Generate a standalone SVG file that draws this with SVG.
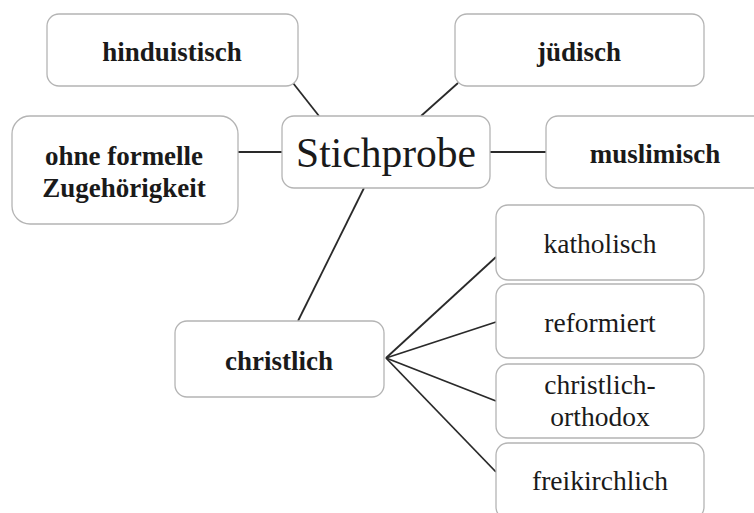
<svg xmlns="http://www.w3.org/2000/svg" width="754" height="513" viewBox="0 0 754 513">
<style>
.box{fill:#fff;stroke:#b4b4b4;stroke-width:1.3}
.t{font-family:"Liberation Serif","Times New Roman",serif;fill:#1a1a1a;text-anchor:middle}
.b{font-weight:bold;font-size:27px}
.r{font-size:27.5px}
.c{stroke:#2a2a2a;stroke-width:1.8;fill:none}
</style>
<rect width="754" height="513" fill="#fff"/>
<g id="connectors">
<line class="c" x1="293" y1="83" x2="319" y2="116"/>
<line class="c" x1="458" y1="83" x2="421" y2="116"/>
<line class="c" x1="238" y1="152" x2="282" y2="152"/>
<line class="c" x1="490" y1="152" x2="546" y2="152"/>
<line class="c" x1="364" y1="188" x2="298" y2="321"/>
<line class="c" x1="386" y1="358" x2="496" y2="257"/>
<line class="c" x1="386" y1="358" x2="496" y2="322"/>
<line class="c" x1="386" y1="358" x2="496" y2="401"/>
<line class="c" x1="386" y1="358" x2="496" y2="472"/>
</g>
<g id="hinduistisch"><rect class="box" x="47" y="14" width="251" height="72" rx="12"/><text class="t b" x="172" y="61">hinduistisch</text></g>
<g id="juedisch"><rect class="box" x="455" y="14" width="249" height="72" rx="12"/><text class="t b" x="579" y="61">jüdisch</text></g>
<g id="ohne"><rect class="box" x="12" y="116" width="226" height="108" rx="18"/><text class="t b" x="124" y="165">ohne formelle</text><text class="t b" x="124" y="197">Zugehörigkeit</text></g>
<g id="stichprobe"><rect class="box" x="282" y="116" width="208" height="72" rx="12"/><text class="t" x="386" y="167" font-size="41.5">Stichprobe</text></g>
<g id="muslimisch"><rect class="box" x="546" y="116" width="220" height="72" rx="12"/><text class="t b" x="655" y="163">muslimisch</text></g>
<g id="christlich"><rect class="box" x="175" y="321" width="209" height="76" rx="12"/><text class="t b" x="279" y="370">christlich</text></g>
<g id="katholisch"><rect class="box" x="496" y="205" width="208" height="75" rx="12"/><text class="t r" x="600" y="253">katholisch</text></g>
<g id="reformiert"><rect class="box" x="496" y="284" width="208" height="74" rx="12"/><text class="t r" x="600" y="332">reformiert</text></g>
<g id="orthodox"><rect class="box" x="496" y="364" width="208" height="74" rx="12"/><text class="t r" x="600" y="394">christlich-</text><text class="t r" x="600" y="426">orthodox</text></g>
<g id="freikirchlich"><rect class="box" x="496" y="443" width="208" height="76" rx="12"/><text class="t r" x="600" y="490">freikirchlich</text></g>
</svg>
